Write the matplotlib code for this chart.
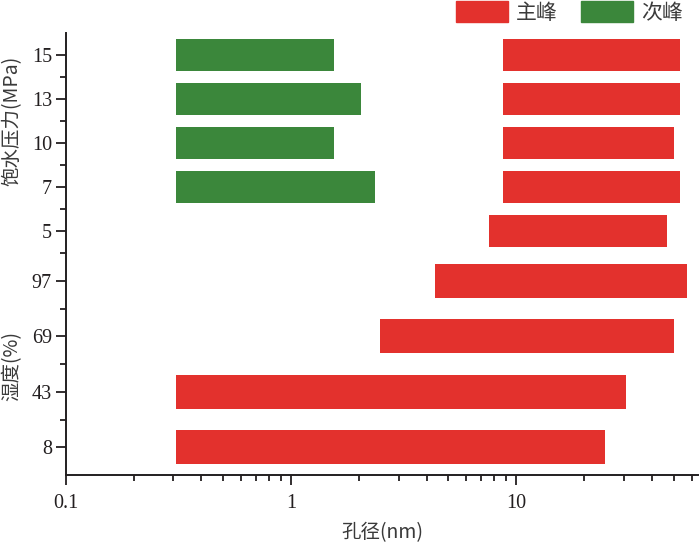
import matplotlib
matplotlib.use('Agg')
import matplotlib.pyplot as plt
import matplotlib.patches as mpatches
from matplotlib.ticker import LogLocator, FixedLocator, NullFormatter

# 饱水压力 (MPa) — 上半部分
pressure = ['5', '7', '10', '13', '15']
main_p_start = [7.6, 8.7, 8.7, 8.7, 8.7]
main_p_end = [46.6, 53.5, 49.9, 53.5, 53.5]

sub_p_cats = ['7', '10', '13', '15']
sub_p_start = [0.31, 0.31, 0.31, 0.31]
sub_p_end = [2.37, 1.55, 2.05, 1.55]

# 湿度 (%) — 下半部分
humidity = ['8', '43', '69', '97']
main_h_start = [0.31, 0.31, 2.49, 4.36]
main_h_end = [24.8, 30.7, 49.9, 57.2]

RED = '#e3312d'
GREEN = '#3b873b'
AXC = '#231f20'
TXT = '#3a3a3a'

plt.rcParams['font.family'] = ['Liberation Serif', 'Noto Sans CJK SC']
cjk = ['Noto Sans CJK SC', 'DejaVu Sans']

fig = plt.figure(figsize=(7, 5.42), dpi=100)
ax_top = fig.add_axes([0.094, 0.5332, 0.903, 0.4059])
ax_bot = fig.add_axes([0.094, 0.1236, 0.903, 0.4096], sharex=ax_top)

# 上: 压力
pos_p = list(range(len(pressure)))
ax_top.barh(pos_p, [e - s for s, e in zip(main_p_start, main_p_end)],
            left=main_p_start, height=0.72, color=RED, edgecolor='none')
pos_sub = [pressure.index(c) for c in sub_p_cats]
ax_top.barh(pos_sub, [e - s for s, e in zip(sub_p_start, sub_p_end)],
            left=sub_p_start, height=0.72, color=GREEN, edgecolor='none')
ax_top.set_ylim(-0.5, len(pressure) - 0.5)
ax_top.set_yticks(pos_p)
ax_top.set_yticklabels(pressure)
ax_top.yaxis.set_minor_locator(FixedLocator([p - 0.5 for p in pos_p]))

# 下: 湿度
pos_h = list(range(len(humidity)))
ax_bot.barh(pos_h, [e - s for s, e in zip(main_h_start, main_h_end)],
            left=main_h_start, height=0.62, color=RED, edgecolor='none')
ax_bot.set_ylim(-0.5, len(humidity) - 0.5)
ax_bot.set_yticks(pos_h)
ax_bot.set_yticklabels(humidity)
ax_bot.yaxis.set_minor_locator(FixedLocator([p + 0.5 for p in pos_h[:-1]]))

ax_bot.set_xscale('log')
ax_bot.set_xlim(0.1, 64)
ax_bot.xaxis.set_minor_locator(LogLocator(base=10, subs=range(2, 10), numticks=10))
ax_bot.xaxis.set_minor_formatter(NullFormatter())
ax_bot.set_xticks([0.1, 1, 10])
ax_bot.set_xticklabels(['0.1', '1', '10'])

for ax in (ax_top, ax_bot):
    for s in ('top', 'right'):
        ax.spines[s].set_visible(False)
    ax.spines['left'].set_color(AXC)
    ax.spines['left'].set_linewidth(1.4)
    ax.spines['bottom'].set_color(AXC)
    ax.spines['bottom'].set_linewidth(1.4)
    ax.tick_params(axis='y', which='major', length=7, width=1.3, color=AXC,
                   labelsize=14.5, labelcolor=AXC, pad=3)
    ax.tick_params(axis='y', which='minor', length=4, width=1.3, color=AXC)
    ax.set_facecolor('none')

ax_top.spines['bottom'].set_visible(False)
ax_top.tick_params(axis='x', which='both', bottom=False, labelbottom=False)
ax_bot.tick_params(axis='x', which='major', length=7, width=1.3, color=AXC,
                   labelsize=14.5, labelcolor=AXC, pad=7)
ax_bot.tick_params(axis='x', which='minor', length=4, width=1.3, color=AXC)

ax_top.set_ylabel('饱水压力(MPa)', fontsize=14, color=TXT, family=cjk)
ax_top.yaxis.set_label_coords(-0.068, 0.6)
ax_bot.set_ylabel('湿度(%)', fontsize=14, color=TXT, family=cjk)
ax_bot.yaxis.set_label_coords(-0.068, 0.49)
ax_bot.set_xlabel('孔径(nm)', fontsize=14, color=TXT, family=cjk, labelpad=6)

handles = [mpatches.Patch(color=RED, label='主峰'),
           mpatches.Patch(color=GREEN, label='次峰')]
leg = fig.legend(handles=handles, loc='upper right', bbox_to_anchor=(0.977, 1.0),
                 ncol=2, frameon=False, handlelength=2.5, handleheight=1.2,
                 handletextpad=0.4, columnspacing=1.1, borderaxespad=0.0,
                 borderpad=0.05, prop={'family': cjk, 'size': 15})
for t in leg.get_texts():
    t.set_color(TXT)

fig.savefig('out.png', dpi=100)
